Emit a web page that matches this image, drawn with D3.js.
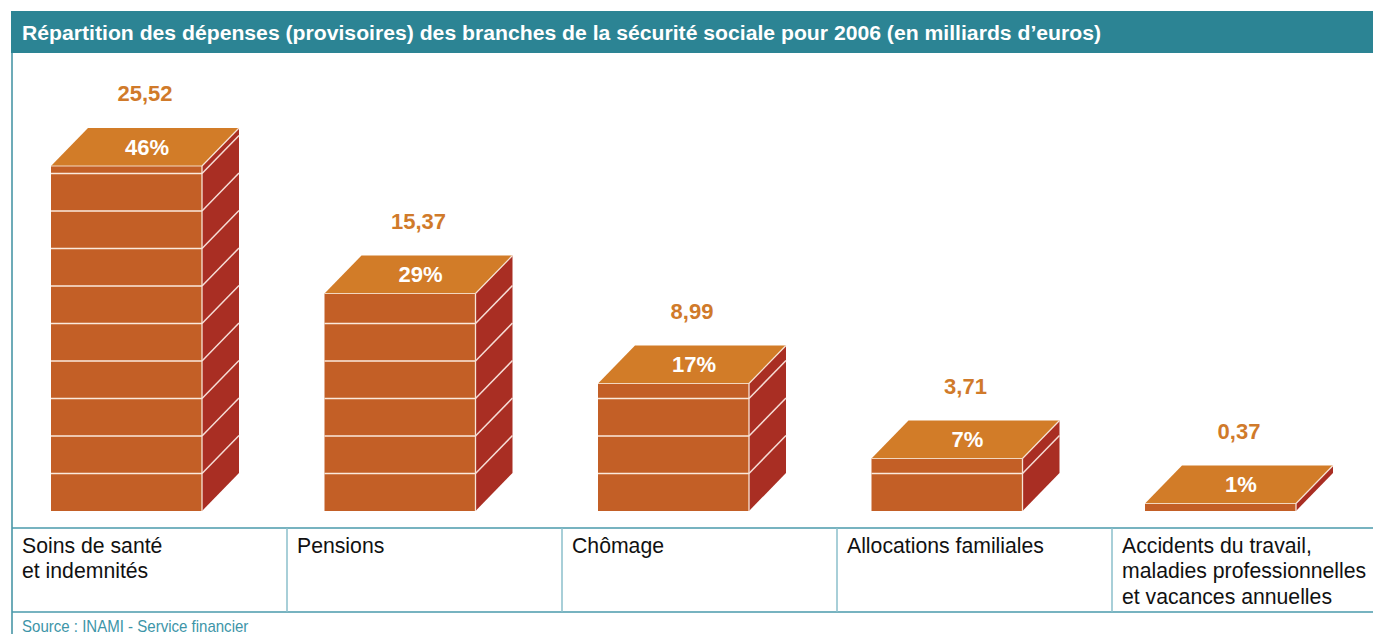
<!DOCTYPE html>
<html><head><meta charset="utf-8">
<script src="https://cdn.jsdelivr.net/npm/d3@7"></script>
<style>body{margin:0;background:#fff;} svg{display:block}</style>
</head><body><svg id="c" width="1373" height="634"></svg>
<script>
const title = "Répartition des dépenses (provisoires) des branches de la sécurité sociale pour 2006 (en milliards d’euros)";
const categories = [["Soins de santé","et indemnités"],["Pensions"],["Chômage"],["Allocations familiales"],["Accidents du travail,","maladies professionnelles","et vacances annuelles"]];
const values = [25.52, 15.37, 8.99, 3.71, 0.37];
const shares = [46, 29, 17, 7, 1];
const brickStep = 5;
const source = "Source : INAMI - Service financier";

const fmtVal = v => d3.format(".2f")(v).replace(".", ",");
const C = {teal:"#2c8494", top:"#d27c28", front:"#c35f26", side:"#a92e23", val:"#d07a2a", line:"#4a9aab", div:"#8bbfcb"};
const sans = "'Liberation Sans',Arial,Helvetica,sans-serif";

const svg = d3.select("#c");
const idx = d3.range(categories.length);
const base = 511, dx = 37, dy = 38, bw = 151;
const y = d3.scaleLinear().domain([0, 46]).range([base, 166]);
const x = d3.scalePoint().domain(idx).range([51, 1145]);
const col = d3.scaleBand().domain(idx).range([12, 1387]);

// header
svg.append("rect").attr("x",11).attr("y",11).attr("width",1362).attr("height",42).attr("fill",C.teal);
svg.append("text").attr("x",22).attr("y",40).attr("fill","#fff")
  .attr("textLength",1079).attr("lengthAdjust","spacingAndGlyphs")
  .style("font-family",sans).style("font-weight","bold").style("font-size","19.5px").text(title);

// left border
svg.append("line").attr("x1",12).attr("x2",12).attr("y1",53).attr("y2",634).attr("stroke","#3d8fa0").attr("stroke-width",1.5);

// bars
const g = svg.selectAll("g.bar").data(idx).join("g").attr("class","bar");
g.each(function(i){
  const s = d3.select(this);
  const x0 = x(i), yT = y(shares[i]);
  const x1 = x0 + bw;
  s.append("rect").attr("x",x0).attr("y",yT).attr("width",bw).attr("height",base-yT).attr("fill",C.front);
  s.append("path").attr("d",`M${x1},${yT}L${x1+dx},${yT-dy}L${x1+dx},${base-dy}L${x1},${base}Z`).attr("fill",C.side);
  s.append("path").attr("d",`M${x0},${yT}L${x0+dx},${yT-dy}L${x1+dx},${yT-dy}L${x1},${yT}Z`).attr("fill",C.top);
  const ks = d3.range(brickStep, shares[i], brickStep);
  ks.forEach(k => {
    const yy = y(k);
    s.append("line").attr("x1",x0).attr("x2",x1).attr("y1",yy).attr("y2",yy).attr("stroke","#fbe9dc").attr("stroke-width",1.5);
    s.append("line").attr("x1",x1).attr("x2",x1+dx).attr("y1",yy).attr("y2",yy-dy).attr("stroke","#f6ddd6").attr("stroke-width",1.5);
  });
  s.append("line").attr("x1",x0).attr("x2",x1).attr("y1",yT).attr("y2",yT).attr("stroke","#f3d7bf").attr("stroke-width",1.2);
  s.append("line").attr("x1",x1).attr("x2",x1).attr("y1",yT).attr("y2",base).attr("stroke","#f7e3d6").attr("stroke-width",1.3);
  s.append("line").attr("x1",x1).attr("x2",x1+dx).attr("y1",yT).attr("y2",yT-dy).attr("stroke","#f7e3d6").attr("stroke-width",1.2);
  const cx = x0 + bw/2 + dx/2;
  s.append("text").attr("x",cx+2).attr("y",yT - dy/2 + 7.5).attr("text-anchor","middle").attr("fill","#fff")
    .style("font-family",sans).style("font-weight","bold").style("font-size","22px").text(shares[i] + "%");
  s.append("text").attr("x",cx).attr("y",yT - dy - 27).attr("text-anchor","middle").attr("fill",C.val)
    .style("font-family",sans).style("font-weight","bold").style("font-size","22px").text(fmtVal(values[i]));
});

// table
[528, 612].forEach(yy => svg.append("line").attr("x1",12).attr("x2",1373).attr("y1",yy).attr("y2",yy).attr("stroke",C.line).attr("stroke-width",1.5));
idx.slice(1).forEach(i => svg.append("line").attr("x1",col(i)).attr("x2",col(i)).attr("y1",528).attr("y2",612).attr("stroke",C.div).attr("stroke-width",1.5));
idx.forEach(i => {
  const t = svg.append("g").attr("transform",`translate(${col(i)+10},553) scale(0.965,1)`)
    .append("text").attr("fill","#111")
    .style("font-family",sans).style("font-size","22px");
  categories[i].forEach((ln,j) => t.append("tspan").attr("x",0).attr("y",25.5*j).text(ln));
});

svg.append("g").attr("transform","translate(22,632) scale(0.94,1)")
  .append("text").attr("fill","#3d95a8")
  .style("font-family",sans).style("font-size","16px").text(source);
</script></body></html>
